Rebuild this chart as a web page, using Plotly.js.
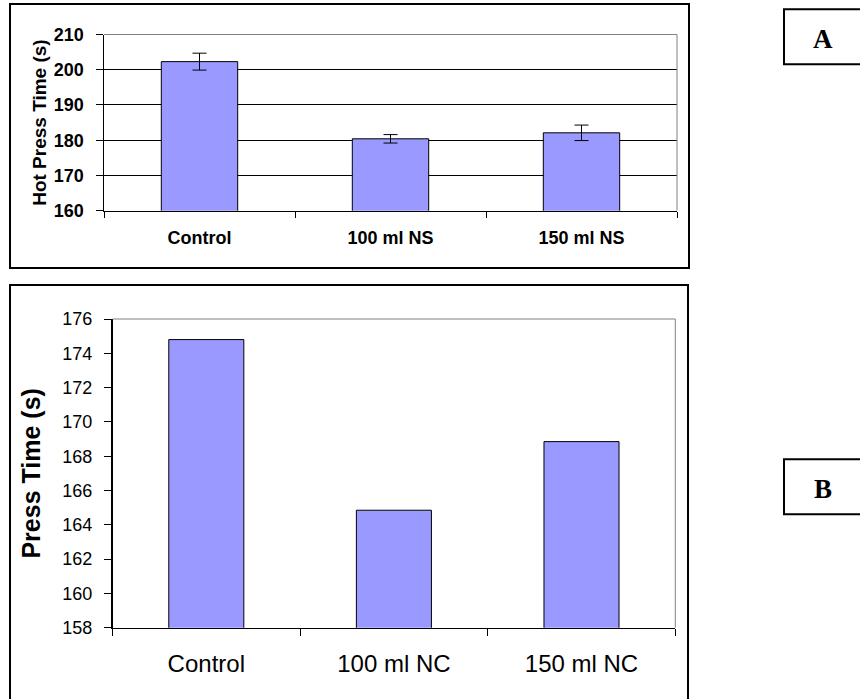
<!DOCTYPE html>
<html>
<head>
<meta charset="utf-8">
<script src="https://cdn.plot.ly/plotly-3.0.1.min.js"></script>
<style>html,body{margin:0;padding:0;background:#fff;}#chart{width:860px;height:699px;}</style>
</head>
<body>
<div id="chart"></div>
<script>
// Panel A data
const categoriesA = ["Control", "100 ml NS", "150 ml NS"];
const hotPressTime = [202.3, 180.4, 182.1];
const hotPressErr = [2.4, 1.2, 2.2];
const ticksA = [160, 170, 180, 190, 200, 210];

// Panel B data
const categoriesB = ["Control", "100 ml NC", "150 ml NC"];
const pressTime = [174.8, 164.85, 168.85];
const ticksB = [158, 160, 162, 164, 166, 168, 170, 172, 174, 176];

const W = 860, H = 699;
const px = v => v / W;
const py = v => 1 - v / H;

const domA = {x: [px(104), px(677)], y: [py(210.7), py(34.5)]};
const domB = {x: [px(112.5), px(675.3)], y: [py(627.7), py(319)]};

const barColor = "#9999FF";

const traces = [
  {
    type: "bar", x: categoriesA, y: hotPressTime, xaxis: "x", yaxis: "y",
    marker: {color: barColor, line: {color: "#000", width: 1}},
    error_y: {type: "data", array: hotPressErr, visible: true, color: "#000", thickness: 1, width: 7},
    hoverinfo: "x+y", showlegend: false
  },
  {
    type: "bar", x: categoriesB, y: pressTime, xaxis: "x2", yaxis: "y2",
    marker: {color: barColor, line: {color: "#000", width: 1}},
    hoverinfo: "x+y", showlegend: false
  }
];

const fontA = "Liberation Sans, Arial, sans-serif";

function borderPath(d) {
  return `M ${d.x[0]},${d.y[1]} L ${d.x[1]},${d.y[1]} L ${d.x[1]},${d.y[0]}`;
}

const layout = {
  width: W, height: H,
  margin: {l: 0, r: 0, t: 0, b: 0},
  paper_bgcolor: "#fff", plot_bgcolor: "#fff",
  bargap: 0.6,
  showlegend: false,
  xaxis: {
    domain: domA.x, anchor: "y", type: "category",
    showline: true, linecolor: "#000", linewidth: 1.5,
    ticks: "outside", tickson: "boundaries", ticklen: 6, tickcolor: "#000", tickwidth: 1,
    ticklabelstandoff: 10,
    tickfont: {family: fontA, size: 18, color: "#000", weight: "bold"},
    showgrid: false, zeroline: false, fixedrange: true
  },
  yaxis: {
    domain: domA.y, anchor: "x", range: [160, 210],
    tickvals: ticksA, ticktext: ticksA.map(String),
    showline: true, linecolor: "#000", linewidth: 1.5,
    ticks: "outside", ticklen: 7, tickcolor: "#000", tickwidth: 1,
    ticklabelstandoff: 8,
    tickfont: {family: fontA, size: 18, color: "#000", weight: "bold"},
    showgrid: true, gridcolor: "#000", gridwidth: 1, zeroline: false,
    title: {text: "Hot Press Time (s)", font: {family: fontA, size: 19, color: "#000", weight: "bold"}, standoff: 2},
    fixedrange: true
  },
  xaxis2: {
    domain: domB.x, anchor: "y2", type: "category",
    showline: true, linecolor: "#000", linewidth: 1.5,
    ticks: "outside", tickson: "boundaries", ticklen: 7, tickcolor: "#000", tickwidth: 1,
    ticklabelstandoff: 14,
    tickfont: {family: fontA, size: 24, color: "#000"},
    showgrid: false, zeroline: false, fixedrange: true
  },
  yaxis2: {
    domain: domB.y, anchor: "x2", range: [158, 176],
    tickvals: ticksB, ticktext: ticksB.map(String),
    showline: true, linecolor: "#000", linewidth: 1.5,
    ticks: "outside", ticklen: 7, tickcolor: "#000", tickwidth: 1,
    ticklabelstandoff: 8,
    tickfont: {family: fontA, size: 18, color: "#000"},
    showgrid: false, zeroline: false,
    title: {text: "Press Time (s)", font: {family: fontA, size: 25, color: "#000", weight: "bold"}, standoff: 14},
    fixedrange: true
  },
  shapes: [
    // outer frames
    {type: "rect", xref: "paper", yref: "paper", x0: px(10), x1: px(689), y0: py(268), y1: py(4), line: {color: "#000", width: 2}},
    {type: "rect", xref: "paper", yref: "paper", x0: px(10), x1: px(688), y0: py(712), y1: py(285), line: {color: "#000", width: 2}},
    // plot area top/right borders (grey)
    {type: "path", xref: "paper", yref: "paper", path: borderPath(domA), line: {color: "#808080", width: 1}, layer: "above"},
    {type: "path", xref: "paper", yref: "paper", path: borderPath(domB), line: {color: "#808080", width: 1}, layer: "above"},
    // label boxes
    {type: "rect", xref: "paper", yref: "paper", x0: px(784), x1: px(880), y0: py(64.3), y1: py(9.3), line: {color: "#000", width: 2}},
    {type: "rect", xref: "paper", yref: "paper", x0: px(784), x1: px(880), y0: py(514.3), y1: py(459.3), line: {color: "#000", width: 2}}
  ],
  annotations: [
    {text: "A", xref: "paper", yref: "paper", x: px(823), y: py(39), xanchor: "center", yanchor: "middle", showarrow: false,
     font: {family: "Liberation Serif, Times New Roman, serif", size: 27, color: "#000", weight: "bold"}},
    {text: "B", xref: "paper", yref: "paper", x: px(823), y: py(489), xanchor: "center", yanchor: "middle", showarrow: false,
     font: {family: "Liberation Serif, Times New Roman, serif", size: 27, color: "#000", weight: "bold"}}
  ]
};

Plotly.newPlot("chart", traces, layout, {displayModeBar: false, staticPlot: true});
</script>
</body>
</html>
